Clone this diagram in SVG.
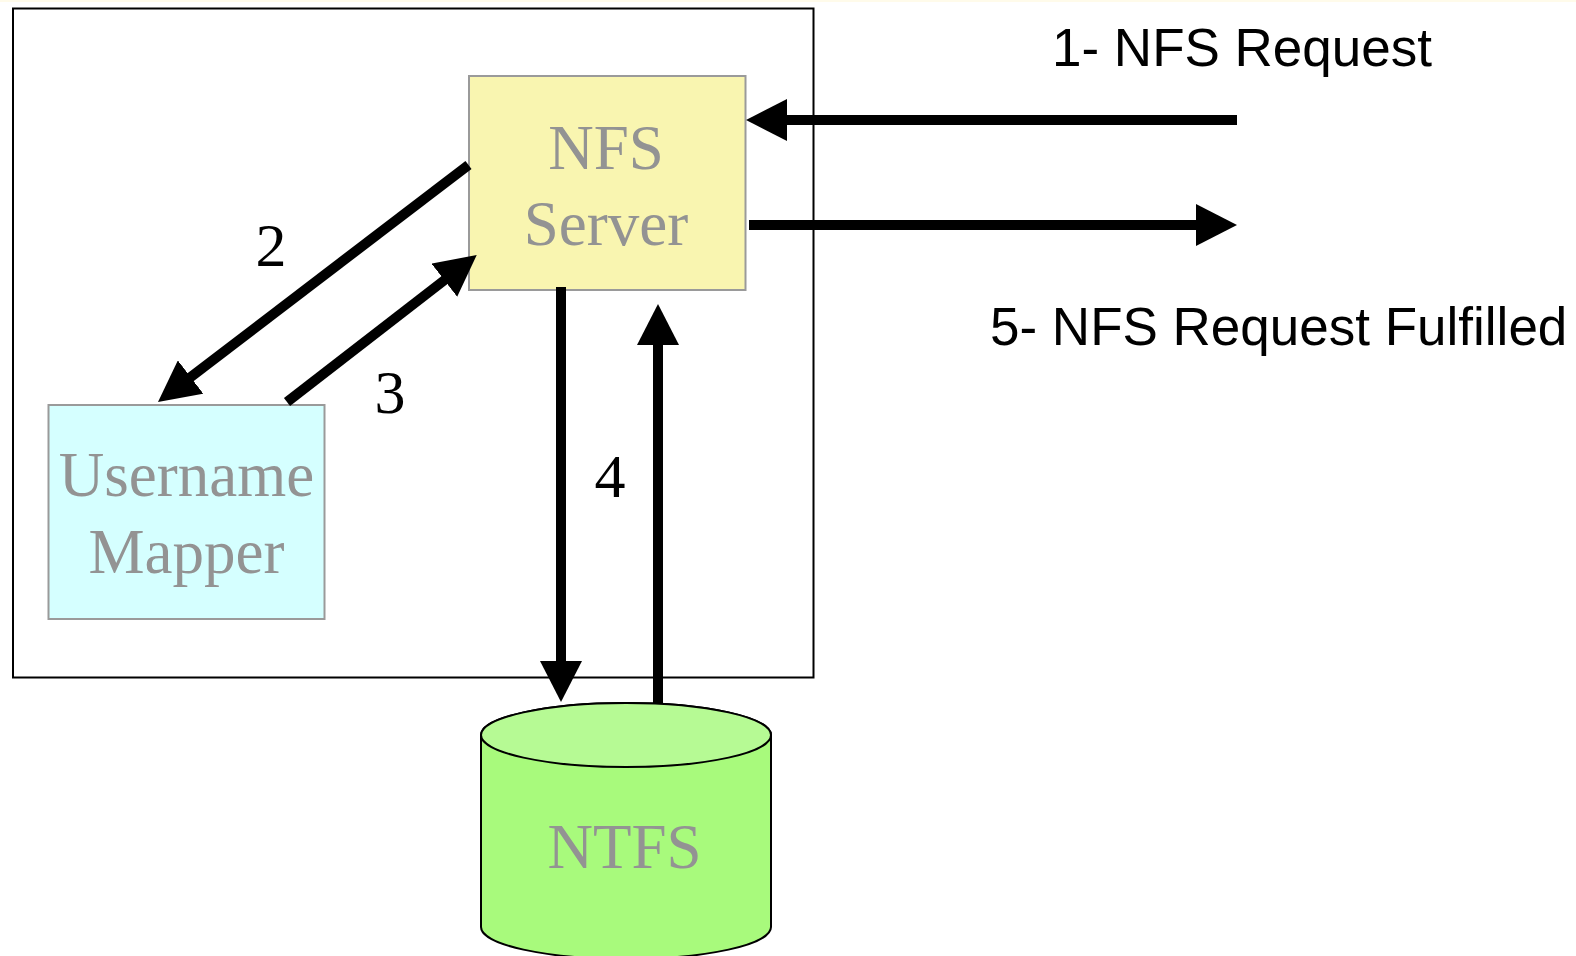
<svg xmlns="http://www.w3.org/2000/svg" width="1576" height="956" viewBox="0 0 1576 956">
<style>
.node{stroke:#9a9a9a;stroke-width:2}
.lbl{font-family:"Liberation Serif","Times New Roman",serif;font-size:63px;fill:#939393;text-anchor:middle}
.num{font-family:"Liberation Serif","Times New Roman",serif;font-size:62px;fill:#000;text-anchor:middle}
.cap{font-family:"Liberation Sans",Arial,sans-serif;font-size:53px;fill:#000}
.conn{stroke:#000;stroke-width:10;fill:none;marker-end:url(#ah)}
</style>
<defs>
<marker id="ah" markerUnits="userSpaceOnUse" markerWidth="42" markerHeight="42" viewBox="0 0 42 42" refX="1" refY="21" orient="auto">
<path d="M0,0 L41,21 L0,42 Z" fill="#000"/>
</marker>
</defs>
<rect x="0" y="0" width="1576" height="956" fill="#fff"/>
<rect x="0" y="0" width="1576" height="2" fill="#fffbea"/>
<g id="system-boundary">
<rect x="13" y="8.5" width="800.5" height="669" fill="none" stroke="#000" stroke-width="2"/>
</g>
<g id="nfs-server">
<rect class="node" x="469" y="76" width="276.5" height="214" fill="#f9f5b0"/>
<text class="lbl" x="606" y="169">NFS</text>
<text class="lbl" x="606" y="245">Server</text>
</g>
<g id="username-mapper">
<rect class="node" x="48.5" y="405" width="276" height="214" fill="#d5ffff"/>
<text class="lbl" x="186.5" y="496">Username</text>
<text class="lbl" x="186.5" y="573">Mapper</text>
</g>
<g id="ntfs">
<path d="M481,735 L481,927 A145,32 0 0 0 771,927 L771,735 A145,32 0 0 0 481,735 Z" fill="#a8fa7c" stroke="#000" stroke-width="2"/>
<ellipse cx="626" cy="735" rx="145" ry="32" fill="#b6fa94" stroke="#000" stroke-width="2"/>
<text class="lbl" x="624.5" y="868">NTFS</text>
</g>
<g id="connectors">
<line class="conn" x1="1237" y1="120" x2="786" y2="120"/>
<line class="conn" x1="749" y1="225" x2="1197" y2="225"/>
<line class="conn" x1="468.5" y1="165" x2="189.8" y2="377.7"/>
<line class="conn" x1="287" y1="402" x2="445.1" y2="279.6"/>
<line class="conn" x1="561" y1="287" x2="561" y2="662"/>
<line class="conn" x1="658" y1="703" x2="658" y2="344"/>
</g>
<g id="labels">
<text class="cap" x="1052" y="66">1- NFS Request</text>
<text class="cap" x="990" y="345">5- NFS Request Fulfilled</text>
<text class="num" x="271" y="266">2</text>
<text class="num" x="390" y="413">3</text>
<text class="num" x="610" y="497">4</text>
</g>
</svg>
